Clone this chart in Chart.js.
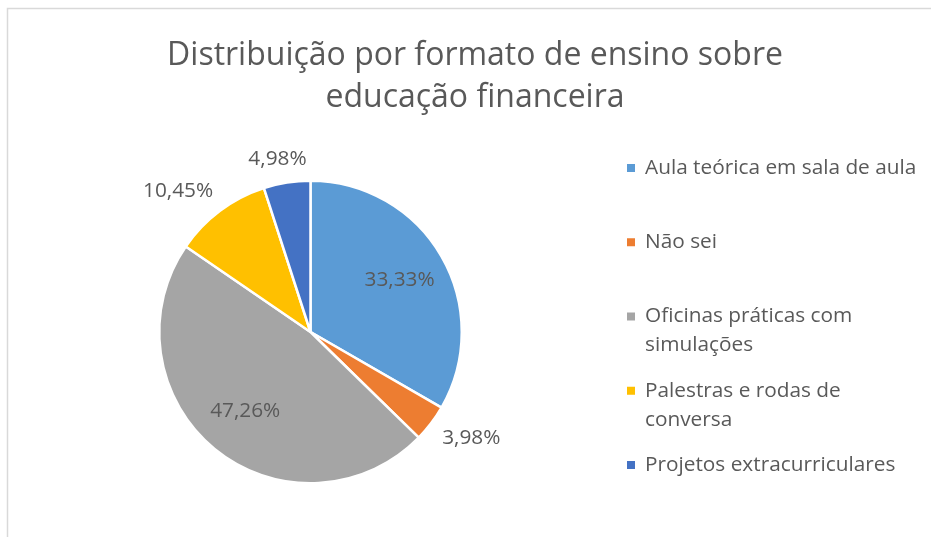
<!DOCTYPE html>
<html>
<head>
<meta charset="utf-8">
<script src="https://cdn.jsdelivr.net/npm/chart.js@4/dist/chart.umd.min.js"></script>
<style>
html,body{margin:0;padding:0;background:#fff;}
#wrap{width:931px;height:537px;position:relative;}
</style>
</head>
<body>
<div id="wrap"><canvas id="c" width="931" height="537"></canvas></div>
<script>
const titleLines = ['Distribuição por formato de ensino sobre', 'educação financeira'];
const categories = [
  ['Aula teórica em sala de aula'],
  ['Não sei'],
  ['Oficinas práticas com', 'simulações'],
  ['Palestras e rodas de', 'conversa'],
  ['Projetos extracurriculares']
];
const values = [33.33, 3.98, 47.26, 10.45, 4.98];
const colors = ['#5B9BD5', '#ED7D31', '#A5A5A5', '#FFC000', '#4472C4'];
const labelInside = [true, false, true, false, false];

const FONT = '"Open Sans", "Liberation Sans", sans-serif';
const TEXT = '#595959';

const fmt = v => v.toFixed(2).replace('.', ',') + '%';

const decorPlugin = {
  id: 'decor',
  beforeDraw(chart) {
    const ctx = chart.ctx;
    ctx.save();
    ctx.fillStyle = '#fff';
    ctx.fillRect(0, 0, chart.width, chart.height);
    ctx.strokeStyle = '#d9d9d9';
    ctx.lineWidth = 1.5;
    ctx.strokeRect(7.5, 8.5, 2000, 2000);
    // title
    ctx.fillStyle = TEXT;
    ctx.font = '32px ' + FONT;
    ctx.textAlign = 'center';
    ctx.textBaseline = 'middle';
    titleLines.forEach((t, i) => ctx.fillText(t, 475, 56 + i * 42));
    ctx.restore();
  },
  afterDraw(chart) {
    const ctx = chart.ctx;
    ctx.save();
    // legend
    ctx.font = '20.8px ' + FONT;
    ctx.textAlign = 'left';
    ctx.textBaseline = 'middle';
    categories.forEach((lines, i) => {
      const y0 = 168 + i * 74.25;
      ctx.fillStyle = colors[i];
      ctx.fillRect(627, y0 - 4, 8, 8);
      ctx.fillStyle = TEXT;
      lines.forEach((l, j) => ctx.fillText(l, 645, y0 + j * 29));
    });
    // data labels
    const meta = chart.getDatasetMeta(0);
    ctx.font = '20.8px ' + FONT;
    ctx.textAlign = 'center';
    ctx.textBaseline = 'middle';
    meta.data.forEach((arc, i) => {
      const p = arc.getProps(['x', 'y', 'startAngle', 'endAngle', 'outerRadius'], true);
      const mid = (p.startAngle + p.endAngle) / 2;
      const dx = Math.cos(mid), dy = Math.sin(mid);
      const txt = fmt(values[i]);
      let x, y;
      if (labelInside[i]) {
        x = p.x + dx * p.outerRadius * 0.68;
        y = p.y + dy * p.outerRadius * 0.68;
      } else {
        const w = ctx.measureText(txt).width;
        const d = p.outerRadius + 14;
        const k = Math.sign(dx) * Math.min(1, Math.abs(dx) * 1.6);
        x = p.x + dx * d + k * w / 2;
        y = p.y + dy * d + dy * 10;
      }
      ctx.fillStyle = TEXT;
      ctx.fillText(txt, x, y);
    });
    ctx.restore();
  }
};

new Chart(document.getElementById('c'), {
  type: 'pie',
  data: {
    labels: categories,
    datasets: [{
      data: values,
      backgroundColor: colors,
      borderColor: '#ffffff',
      borderWidth: 2.5
    }]
  },
  options: {
    responsive: false,
    animation: false,
    layout: { padding: { left: 158, right: 468, top: 179, bottom: 52 } },
    plugins: {
      legend: { display: false },
      title: { display: false },
      tooltip: { enabled: false }
    }
  },
  plugins: [decorPlugin]
});
</script>
</body>
</html>
